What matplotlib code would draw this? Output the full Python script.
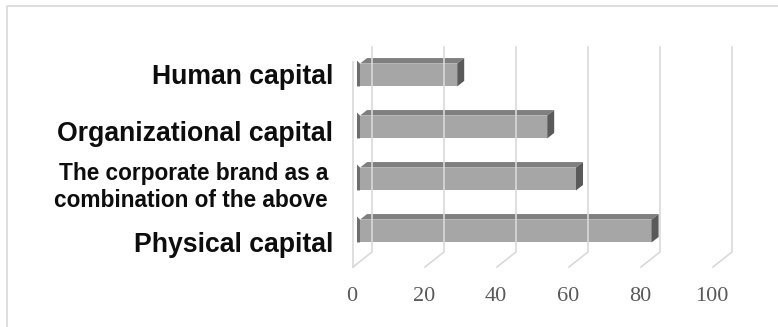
import numpy as np
import matplotlib
matplotlib.use("Agg")
import matplotlib.pyplot as plt
from matplotlib.lines import Line2D
from matplotlib.patches import Polygon

# data (Excel order: first category at the bottom)
categories = ["Physical capital", "The corporate brand as a\ncombination of the above",
              "Organizational capital", "Human capital"]
values = [81, 60, 52, 27]
xticks = [0, 20, 40, 60, 80, 100]

W, H = 778, 327
fig = plt.figure(figsize=(W / 100, H / 100), dpi=100)
# axes = front plane of the bars
ax = fig.add_axes([360 / W, 70 / H, 360 / W, 208 / H])
ax.set_xlim(0, 100)
ax.set_ylim(-0.5, 3.5)
ax.axis("off")

grid_c = "#d9d9d9"
back = np.array([12, 9.5])     # back wall offset, px
front = np.array([-7, -5.5])   # front floor edge offset, px
bar_d = np.array([7, 5.5])     # bar depth, px
floor_y, top_y = -0.0216, 0.964  # in axes fraction, front plane

def px(x, yfrac):
    # data x / axes-fraction y -> display pixels
    xd = ax.transData.transform((x, 0))[0]
    yd = ax.transAxes.transform((0, yfrac))[1]
    return np.array([xd, yd])

def line(pts, **kw):
    pts = np.array(pts)
    fig.add_artist(Line2D(pts[:, 0], pts[:, 1], transform=None, **kw))

def poly(pts, **kw):
    fig.add_artist(Polygon(np.array(pts), closed=True, transform=None, **kw))

# chart area border
line([[7, 0], [7, H - 6], [W, H - 6]], color="#d9d9d9", lw=1.2)

# back wall gridlines + floor depth lines
for v in xticks:
    b0 = px(v, floor_y) + back
    b1 = px(v, top_y) + back
    line([b1, b0, px(v, floor_y) + front], color=grid_c, lw=1.2)

# left wall front edge
line([px(0, floor_y) + front, px(0, top_y) + front], color=grid_c, lw=1.2)

# bars
bh = 0.44
for i, v in enumerate(values):
    ax.barh(i, v, height=bh, color="#a6a6a6", edgecolor="none", zorder=3)
    ylo = ax.transData.transform((0, i - bh / 2))[1]
    yhi = ax.transData.transform((0, i + bh / 2))[1]
    x0 = ax.transData.transform((0, 0))[0]
    x1 = ax.transData.transform((v, 0))[0]
    # top face
    poly([[x0, yhi], [x1, yhi], [x1 + bar_d[0], yhi + bar_d[1]],
          [x0 + bar_d[0], yhi + bar_d[1]]], color="#7f7f7f", lw=0)
    # end face
    poly([[x1, ylo], [x1, yhi], [x1 + bar_d[0], yhi + bar_d[1]],
          [x1 + bar_d[0], ylo + bar_d[1]]], color="#5a5a5a", lw=0)
    # left end shading
    poly([[x0 - 3, ylo], [x0, ylo], [x0, yhi], [x0 - 3, yhi + 3]],
         color="#6e6e6e", lw=0)

# x tick labels (front floor)
for v in xticks:
    p = px(v, floor_y) + front + np.array([-1, -30])
    fig.text(p[0] / W, p[1] / H, str(v), ha="center", va="center",
             family="Liberation Serif", fontsize=16, color="#595959")

# category labels
nudge = [-9, -3, -2, 3]  # px, per label, bottom to top
for i, c in enumerate(categories):
    xd = ax.transData.transform((0, i))
    two = "\n" in c
    fig.text((xd[0] - 27 - (5 if two else 0)) / W, (xd[1] - 5 + nudge[i]) / H, c,
             ha="right", va="center", family="Liberation Sans",
             fontweight="bold", fontsize=16.3 if two else 19.2,
             color="#0d0d0d", linespacing=1.25)

fig.savefig("out.png", dpi=100)
